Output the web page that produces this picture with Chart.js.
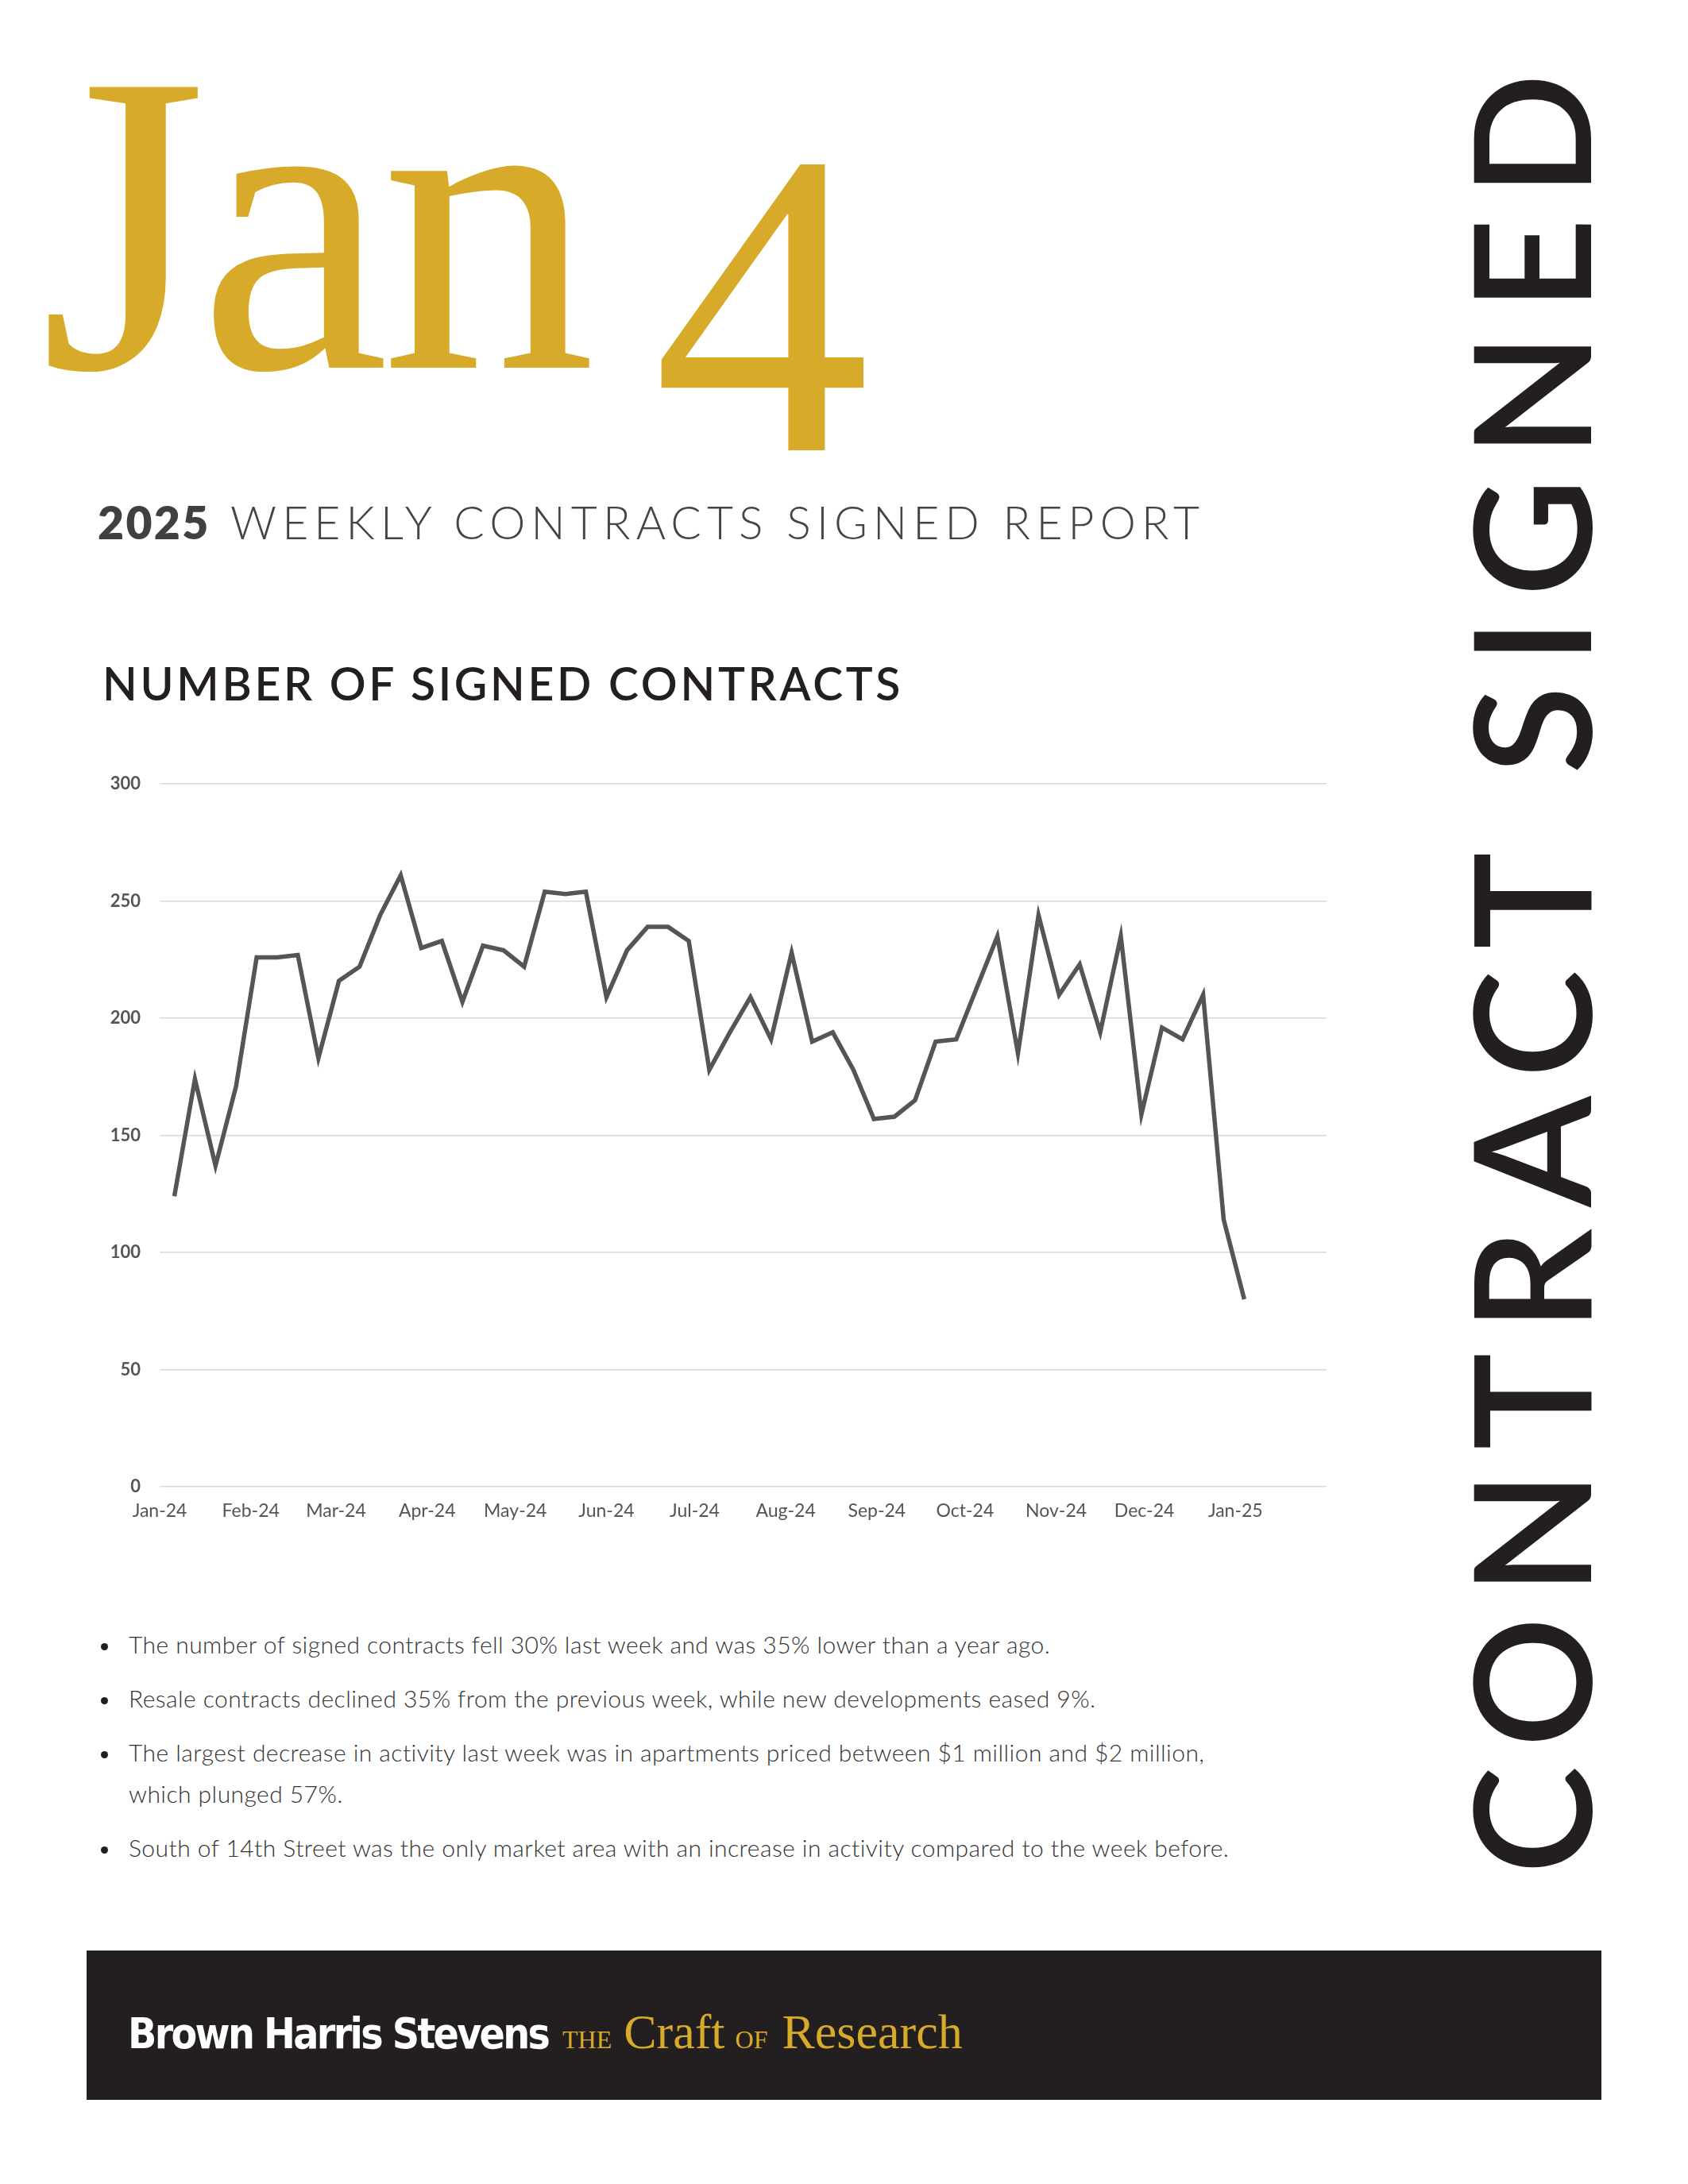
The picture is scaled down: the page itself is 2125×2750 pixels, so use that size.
<!DOCTYPE html>
<html>
<head>
<meta charset="utf-8">
<script src="https://cdn.jsdelivr.net/npm/chart.js@4.4.1/dist/chart.umd.min.js"></script>
<style>
  body { margin: 0; width: 2125px; height: 2750px; background: #fff; position: relative; overflow: hidden; font-family: Lato, sans-serif; }
  .abs { position: absolute; white-space: nowrap; line-height: 1; display: inline-block; }
  #jan { left: 50px; top: 11px; font-family: "Liberation Serif", serif; font-size: 540px; color: #d7ab29; letter-spacing: -10px; }
  #four { left: 822px; top: 109px; font-family: "Liberation Serif", serif; font-size: 547px; color: #d7ab29; }
  #year { left: 123px; top: 629px; font-size: 57px; font-weight: 800; color: #404040; }
  #subtitle { left: 290px; top: 629px; font-size: 57px; font-weight: 300; color: #444; }
  #chartTitle { left: 129px; top: 832px; font-size: 57px; font-weight: 600; color: #231f20; }
  #chartBox { position: absolute; left: 100px; top: 950px; }
  #notes { position: absolute; left: 162px; top: 2044px; font-size: 30px; font-weight: 300; color: #333; line-height: 52px; }
  .note { position: relative; white-space: nowrap; margin-bottom: 16px; }
  .note:before { content: ''; position: absolute; left: -35px; top: 25px; width: 9px; height: 9px; border-radius: 50%; background: #231f20; }
  #footer { position: absolute; left: 109px; top: 2456px; width: 1907px; height: 188px; background: #231f20; }
  #brand { left: 161px; top: 2534px; font-family: "Liberation Sans Narrow", "DejaVu Sans Condensed", sans-serif; font-stretch: condensed; font-size: 53px; font-weight: 700; color: #fff; }
  #craft { left: 708px; top: 2527px; font-family: "Liberation Serif", serif; font-size: 62px; color: #d7ab29; }
  #craft .sc { font-size: 32px; }
  #side { left: 1822px; top: 2360px; font-size: 205px; font-weight: 600; color: #231f20; transform-origin: 0 0; transform: rotate(-90deg); }
</style>
</head>
<body>
<div class="abs" id="jan">Jan</div>
<div class="abs" id="four">4</div>
<div class="abs" id="year">2025</div>
<div class="abs" id="subtitle">WEEKLY CONTRACTS SIGNED REPORT</div>
<div class="abs" id="chartTitle">NUMBER OF SIGNED CONTRACTS</div>

<div id="chartBox"><canvas id="contractsChart" width="1600" height="990"></canvas></div>

<div id="notes">
  <div class="note"><span id="note1">The number of signed contracts fell 30% last week and was 35% lower than a year ago.</span></div>
  <div class="note">Resale contracts declined 35% from the previous week, while new developments eased 9%.</div>
  <div class="note">The largest decrease in activity last week was in apartments priced between $1 million and $2 million,<br>which plunged 57%.</div>
  <div class="note">South of 14th Street was the only market area with an increase in activity compared to the week before.</div>
</div>

<div id="footer"></div>
<div class="abs" id="brand">Brown Harris Stevens</div>
<div class="abs" id="craft"><span class="sc" style="margin-right:15px">THE</span>Craft<span class="sc" style="margin:0 18px 0 13px">OF</span>Research</div>

<div class="abs" id="side">CONTRACT SIGNED</div>

<script>
// weekly signed contracts, week ending dates start on firstWeekEnding
var firstWeekEnding = '2024-01-06';
var values = [124, 174, 137, 171, 226, 226, 227, 183, 216, 222, 244, 261, 230, 233, 207, 231, 229, 222, 254,
  253, 254, 209, 229, 239, 239, 233, 178, 194, 209, 191, 228, 190, 194, 178, 157, 158, 165, 190, 191,
  213, 235, 185, 244, 210, 223, 194, 235, 159, 196, 191, 210, 114, 80];

var monthLabels = ['Jan-24', 'Feb-24', 'Mar-24', 'Apr-24', 'May-24', 'Jun-24', 'Jul-24',
  'Aug-24', 'Sep-24', 'Oct-24', 'Nov-24', 'Dec-24', 'Jan-25'];
var monthStarts = ['2024-01-01', '2024-02-01', '2024-03-01', '2024-04-01', '2024-05-01', '2024-06-01', '2024-07-01',
  '2024-08-01', '2024-09-01', '2024-10-01', '2024-11-01', '2024-12-01', '2025-01-01'];
var axisStart = '2024-01-01';
var axisEnd = '2025-02-01';

var yMin = 0, yMax = 300, yStep = 50;

function dayOf(str) {
  return Math.round((Date.parse(str) - Date.parse(axisStart)) / 86400000);
}

function fitText(id, target) {
  var el = document.getElementById(id);
  el.style.letterSpacing = '0px';
  var w = el.offsetWidth;
  var n = el.textContent.length;
  var ls = (target - w) / (n - 1);
  el.style.letterSpacing = ls + 'px';
  return ls;
}

function drawChart() {
  var firstDay = dayOf(firstWeekEnding);
  var points = [];
  for (var i = 0; i < values.length; i++) {
    points.push({ x: firstDay + 7 * i, y: values[i] });
  }
  var monthDays = monthStarts.map(dayOf);

  var ctx = document.getElementById('contractsChart').getContext('2d');
  new Chart(ctx, {
    type: 'line',
    data: {
      datasets: [{
        data: points,
        borderColor: '#555555',
        borderWidth: 5.5,
        pointRadius: 0,
        tension: 0,
        fill: false
      }]
    },
    options: {
      responsive: false,
      animation: false,
      devicePixelRatio: 1,
      layout: { padding: { left: 0, right: 30, top: 33, bottom: 0 } },
      plugins: { legend: { display: false }, tooltip: { enabled: false } },
      scales: {
        x: {
          type: 'linear',
          min: 0,
          max: dayOf(axisEnd),
          grid: { display: false },
          border: { display: false },
          afterBuildTicks: function(axis) {
            axis.ticks = monthDays.map(function(d) { return { value: d }; });
          },
          afterFit: function(s) { s.height = 68; },
          ticks: {
            autoSkip: false,
            maxRotation: 0,
            padding: 9,
            color: '#555',
            font: { family: 'Lato', size: 23, weight: 400 },
            callback: function(value) {
              return monthLabels[monthDays.indexOf(value)];
            }
          }
        },
        y: {
          min: yMin,
          max: yMax,
          grid: { color: '#d9d9d9', lineWidth: 1.5, drawTicks: false },
          border: { display: false },
          afterFit: function(s) { s.width = 101; },
          ticks: {
            stepSize: yStep,
            padding: 24,
            color: '#555',
            font: { family: 'Lato', size: 22, weight: 700 }
          }
        }
      }
    }
  });
}

window.onload = function() {
  document.fonts.ready.then(function() {
    fitText('year', 139);
    fitText('subtitle', 1220);
    fitText('chartTitle', 1004);
    fitText('brand', 532);
    fitText('side', 2268);
    var ls = fitText('note1', 1160);
    document.getElementById('notes').style.letterSpacing = ls + 'px';
    document.getElementById('note1').style.letterSpacing = '';
    drawChart();
  });
}
</script>
</body>
</html>
